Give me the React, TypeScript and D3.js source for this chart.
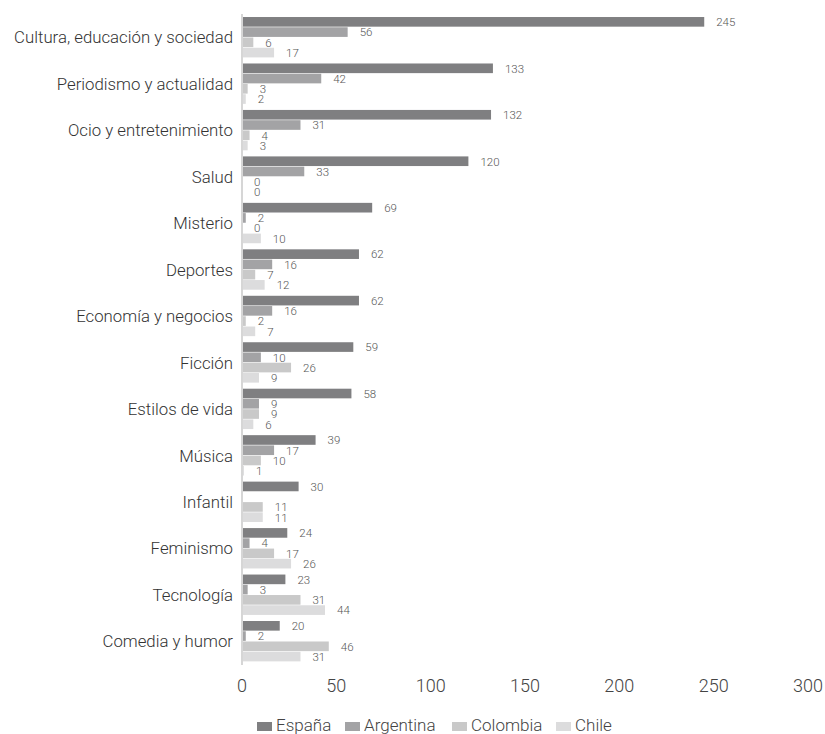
import React from "react";
import * as d3 from "d3";

const categories = [
  "Cultura, educación y sociedad",
  "Periodismo y actualidad",
  "Ocio y entretenimiento",
  "Salud",
  "Misterio",
  "Deportes",
  "Economía y negocios",
  "Ficción",
  "Estilos de vida",
  "Música",
  "Infantil",
  "Feminismo",
  "Tecnología",
  "Comedia y humor",
];
const seriesNames = ["España", "Argentina", "Colombia", "Chile"];
const espana = [245, 133, 132, 120, 69, 62, 62, 59, 58, 39, 30, 24, 23, 20];
const argentina: (number | null)[] = [56, 42, 31, 33, 2, 16, 16, 10, 9, 17, null, 4, 3, 2];
const colombia = [6, 3, 4, 0, 0, 7, 2, 26, 9, 10, 11, 17, 31, 46];
const chile = [17, 2, 3, 0, 10, 12, 7, 9, 6, 1, 11, 26, 44, 31];
const xTicks = [0, 50, 100, 150, 200, 250, 300];
const colors = ["#7f7f81", "#a3a3a5", "#c9c9c9", "#dcdcdd"];

const W = 825;
const H = 734;
const FONT = "Roboto, 'Noto Sans', sans-serif";

export default function App() {
  const allSeries = [espana, argentina, colombia, chile];
  const x = d3.scaleLinear().domain([0, 300]).range([242, 808]);
  const y = d3
    .scaleBand<string>()
    .domain(categories)
    .range([14.7, 664.3])
    .paddingInner(0.118)
    .paddingOuter(0.05);
  const inner = d3
    .scaleBand<string>()
    .domain(seriesNames)
    .range([0, y.bandwidth()])
    .padding(0);

  const legendX = [257, 345, 452, 556];

  return (
    <svg
      width={W}
      height={H}
      style={{ position: "absolute", left: 0, top: 0, background: "#fff" }}
      fontFamily={FONT}
    >
      {categories.map((c, i) => (
        <g key={c}>
          {allSeries.map((s, k) => {
            const v = s[i];
            const y0 = (y(c) as number) + (inner(seriesNames[k]) as number);
            const h = inner.bandwidth();
            return (
              <g key={k}>
                {v !== null && (
                  <rect
                    x={x(0)}
                    y={y0}
                    width={Math.max(0, x(v) - x(0))}
                    height={h - 0.6}
                    fill={colors[k]}
                  />
                )}
                {v !== null && (
                  <text
                    x={x(v) + 12}
                    y={y0 + h / 2}
                    dy="0.35em"
                    fontSize={11.5}
                    fontWeight={300}
                    fill="#555"
                  >
                    {v}
                  </text>
                )}
              </g>
            );
          })}
          <text
            x={233}
            y={(y(c) as number) + y.bandwidth() / 2}
            dy="0.35em"
            textAnchor="end"
            fontSize={16.8}
            fontWeight={300}
            fill="#333"
          >
            {c}
          </text>
        </g>
      ))}
      <line x1={x(0)} x2={x(0)} y1={14} y2={665} stroke="#d6d6d6" strokeWidth={2} />
      {xTicks.map((t) => (
        <text
          key={t}
          x={x(t)}
          y={692}
          textAnchor="middle"
          fontSize={18}
          fontWeight={300}
          fill="#444"
        >
          {t}
        </text>
      ))}
      {seriesNames.map((n, k) => (
        <g key={n}>
          <rect x={legendX[k]} y={722} width={15} height={9} fill={colors[k]} />
          <text
            x={legendX[k] + 19}
            y={731}
            fontSize={17}
            fontWeight={300}
            fill="#444"
          >
            {n}
          </text>
        </g>
      ))}
    </svg>
  );
}
